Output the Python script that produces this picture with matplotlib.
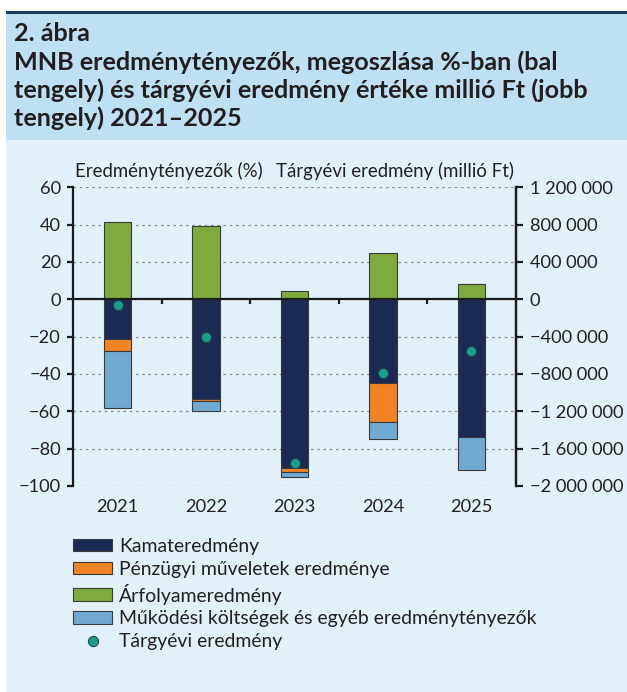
import matplotlib
matplotlib.use('Agg')
import matplotlib.pyplot as plt
from matplotlib.patches import Rectangle
from matplotlib.lines import Line2D
import numpy as np

# ---- data ----
years = ['2021', '2022', '2023', '2024', '2025']
kamat = [-21.1, -53.2, -90.5, -44.7, -73.6]          # Kamateredmény (%)
penzugyi = [-6.8, -1.4, -1.8, -20.9, 0.0]            # Pénzügyi műveletek eredménye (%)
arfolyam = [41.6, 39.4, 4.3, 24.7, 8.2]              # Árfolyameredmény (%)
mukodesi = [-30.1, -5.4, -2.7, -9.4, -17.8]          # Működési költségek és egyéb (%)
targyevi = [-61000, -407000, -1757000, -786000, -554000]  # Tárgyévi eredmény (millió Ft)

left_ticks = [60, 40, 20, 0, -20, -40, -60, -80, -100]
right_ticks = [1200000, 800000, 400000, 0, -400000, -800000, -1200000, -1600000, -2000000]

series_labels = ['Kamateredmény', 'Pénzügyi műveletek eredménye', 'Árfolyameredmény',
                 'Működési költségek és egyéb eredménytényezők', 'Tárgyévi eredmény']

title_lines = ['2. ábra',
               'MNB eredménytényezők, megoszlása %-ban (bal',
               'tengely) és tárgyévi eredmény értéke millió Ft (jobb',
               'tengely) 2021–2025']
left_title = 'Eredménytényezők (%)'
right_title = 'Tárgyévi eredmény (millió Ft)'

# ---- style ----
plt.rcParams['font.family'] = ['Lato', 'DejaVu Sans']
C_NAVY = '#1B2A52'
C_ORANGE = '#F08323'
C_GREEN = '#7FAB3E'
C_LBLUE = '#70AAD3'
C_TEAL = '#1A9E8E'
C_EDGE = '#3A3A3A'
TXT = '#231F20'

W, H = 627, 692
fig = plt.figure(figsize=(W / 100, H / 100), dpi=100)
fig.patch.set_facecolor('white')
fig.canvas.draw()
R = fig.canvas.get_renderer()


def fx(px):
    return px / W


def fy(py):
    return 1 - py / H


def text_width(s, size, weight='normal'):
    t = fig.text(0, 0, s, fontsize=size, fontweight=weight)
    w = t.get_window_extent(R).width
    t.remove()
    return w


def size_for(s, target_px, weight='normal', base=12.0):
    size = base
    for _ in range(3):
        size = size * target_px / text_width(s, size, weight)
    return size


# font sizes fitted to the reference widths
fs_title = size_for(title_lines[1], 544, 'bold', 18)
fs_axt = size_for(left_title, 186.7, 'normal', 13)
fs_axt2 = size_for(right_title, 236, 'normal', 13)
fs_axt = (fs_axt + fs_axt2) / 2
fs_leg = size_for(series_labels[3], 419, 'normal', 14)
fs_year = size_for('2021', 41.7, 'normal', 13)
fs_ltick = size_for('60', 21.3, 'normal', 13)
fs_tick = (fs_year + fs_ltick) / 2

# choose a thousands separator width that matches the reference label width
best = None
for sp in [' ', '\u2005', '\u2004', '\u2002']:
    w = text_width('1' + sp + '200' + sp + '000', fs_tick)
    if best is None or abs(w - 84) < best[0]:
        best = (abs(w - 84), sp)
SEP = best[1]

# backgrounds
fig.add_artist(Rectangle((fx(6), fy(140)), fx(W) - fx(6), fy(14) - fy(140),
                         transform=fig.transFigure, facecolor='#BEE0F2', edgecolor='none', zorder=0))
fig.add_artist(Rectangle((fx(6), fy(H)), fx(W) - fx(6), fy(140) - fy(H),
                         transform=fig.transFigure, facecolor='#E2F1F9', edgecolor='none', zorder=0))
fig.add_artist(Rectangle((fx(6), fy(14)), fx(W) - fx(6), fy(11) - fy(14),
                         transform=fig.transFigure, facecolor='#1C3A5E', edgecolor='none', zorder=0))

# title
baselines = [41, 70, 98, 126]
for line, b in zip(title_lines, baselines):
    fig.text(fx(14), fy(b), line, fontsize=fs_title, fontweight='bold', color=TXT,
             va='baseline', ha='left')

# axes
ax = fig.add_axes([fx(73.3), fy(486), fx(515.7) - fx(73.3), fy(187.3) - fy(486)])
ax.set_facecolor('none')
x = np.arange(len(years))
bw = 0.31

k = np.array(kamat)
p = np.array(penzugyi)
m = np.array(mukodesi)
a = np.array(arfolyam)

ax.bar(x, k, bw, color=C_NAVY, edgecolor=C_EDGE, linewidth=0.8, zorder=3)
ax.bar(x, p, bw, bottom=k, color=C_ORANGE, edgecolor=C_EDGE, linewidth=0.8, zorder=3)
ax.bar(x, a, bw, color=C_GREEN, edgecolor=C_EDGE, linewidth=0.8, zorder=3)
ax.bar(x, m, bw, bottom=k + p, color=C_LBLUE, edgecolor=C_EDGE, linewidth=0.8, zorder=3)

ax.set_xlim(-0.5, len(years) - 0.5)
ax.set_ylim(left_ticks[-1], left_ticks[0])
ax.set_yticks(left_ticks)
ax.set_yticklabels([str(v).replace('-', '\u2212') for v in left_ticks])
ax.set_xticks(x)
ax.set_xticklabels(years)

for v in left_ticks:
    if v != 0:
        ax.axhline(v, color='#8A8A8A', linewidth=0.9, linestyle=(0, (2, 3)), zorder=1)
ax.axhline(0, color='#1A1A1A', linewidth=1.6, zorder=4)
ax.vlines(x[:-1] + 0.5, -2.7, 0, color='#1A1A1A', linewidth=1.6, zorder=4)

for s in ['top', 'bottom']:
    ax.spines[s].set_visible(False)
for s in ['left', 'right']:
    ax.spines[s].set_linewidth(1.6)
    ax.spines[s].set_color('#1A1A1A')

ax.tick_params(axis='y', direction='out', length=4, width=1.6, color='#1A1A1A',
               labelsize=fs_tick, labelcolor=TXT, pad=5)
ax.tick_params(axis='x', length=0, labelsize=fs_tick, labelcolor=TXT, pad=9.5)

ax2 = ax.twinx()
ax2.set_ylim(right_ticks[-1], right_ticks[0])
ax2.set_yticks(right_ticks)


def fmt(v):
    s = f"{abs(v):,}".replace(',', SEP)
    return ('\u2212' if v < 0 else '') + s


ax2.set_yticklabels([fmt(v) for v in right_ticks])
for s in ['top', 'bottom', 'left']:
    ax2.spines[s].set_visible(False)
ax2.spines['right'].set_linewidth(1.6)
ax2.spines['right'].set_color('#1A1A1A')
ax2.tick_params(axis='y', direction='out', length=5, width=1.6, color='#1A1A1A',
                labelsize=fs_tick, labelcolor=TXT, pad=5)
ax2.scatter(x, targyevi, s=52, color=C_TEAL, edgecolor='#1F4A47', linewidth=0.8, zorder=5)

# axis titles
fig.text(fx(75), fy(176.7), left_title, fontsize=fs_axt, color=TXT, va='baseline', ha='left')
fig.text(fx(514.3), fy(176.7), right_title, fontsize=fs_axt, color=TXT, va='baseline', ha='right')

# legend
handles = [Rectangle((0, 0), 1, 1, facecolor=c, edgecolor=C_EDGE, linewidth=0.8)
           for c in [C_NAVY, C_ORANGE, C_GREEN, C_LBLUE]]
handles.append(Line2D([0], [0], marker='o', linestyle='none', markersize=7.3,
                      markerfacecolor=C_TEAL, markeredgecolor='#1F4A47', markeredgewidth=0.8))
fpx = fs_leg * 100 / 72
fig.legend(handles, series_labels, loc='upper left', bbox_to_anchor=(fx(73), fy(538)),
           frameon=False, fontsize=fs_leg, handlelength=39 / fpx, handleheight=12 / fpx,
           handletextpad=7 / fpx, labelspacing=(25.2 - fpx) / fpx, borderpad=0,
           borderaxespad=0, labelcolor=TXT)

fig.savefig('out.png', dpi=100, facecolor=fig.get_facecolor())
